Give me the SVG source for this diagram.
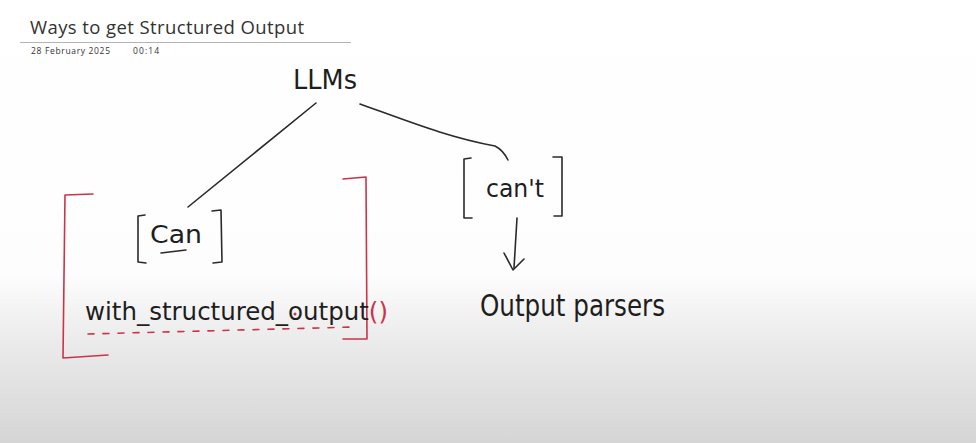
<svg xmlns="http://www.w3.org/2000/svg" width="976" height="443" viewBox="0 0 976 443">
<defs>
<linearGradient id="bg" x1="0" y1="0" x2="0" y2="1">
<stop offset="0" stop-color="#ffffff"/>
<stop offset="0.62" stop-color="#fdfdfd"/>
<stop offset="0.76" stop-color="#ececec"/>
<stop offset="1" stop-color="#d5d5d5"/>
</linearGradient>
<style>
.ink{fill:none;stroke:#2a2a2a;stroke-width:1.6;stroke-linecap:round;stroke-linejoin:round}
.red{fill:none;stroke:#c9344a;stroke-width:1.6;stroke-linecap:round;stroke-linejoin:round}
.hand{font-family:"DejaVu Sans","Liberation Sans",sans-serif;fill:#1e1e1e;font-weight:normal}
.head{font-family:"Open Sans","Liberation Sans",sans-serif;fill:#333333}
</style>
</defs>
<rect width="976" height="443" fill="url(#bg)"/>
<g id="header">
<text class="head" x="30" y="34" font-size="18.5" textLength="274">Ways to get Structured Output</text>
<line x1="20" y1="42.5" x2="351" y2="42.5" stroke="#b4b4b4" stroke-width="1"/>
<text class="head" x="31" y="54" font-size="8.5" fill="#8a8a8a" textLength="79">28 February 2025</text>
<text class="head" x="133" y="54" font-size="8.5" fill="#8a8a8a" textLength="26">00:14</text>
</g>
<g id="connectors">
<path class="ink" d="M316,103 L188,207"/>
<path class="ink" d="M360,104 C410,122 450,138 495,146 Q503,150 508,160"/>
<path class="ink" d="M517,218 L514,268"/>
<path class="ink" d="M504,253 L513,270 L524,259"/>
</g>
<g id="node-llms">
<text class="hand" x="293" y="89" font-size="27" textLength="64" lengthAdjust="spacingAndGlyphs">LLMs</text>
</g>
<g id="node-can">
<path class="ink" d="M145,215 L138,216 L138,262 L146,263"/>
<path class="ink" d="M212,211 L221,210 L222,262 L213,263"/>
<text class="hand" x="150" y="243" font-size="24" textLength="52" lengthAdjust="spacingAndGlyphs">Can</text>
<path class="ink" d="M161,253 L186,250"/>
</g>
<g id="node-cant">
<path class="ink" d="M471,158 L464,159 L464,218 L472,218"/>
<path class="ink" d="M553,157 L562,157 L562,216 L554,216"/>
<text class="hand" x="486" y="197" font-size="24" textLength="58" lengthAdjust="spacingAndGlyphs">can't</text>
</g>
<g id="node-output-parsers">
<text class="hand" x="480" y="316" font-size="30" textLength="185" lengthAdjust="spacingAndGlyphs">Output parsers</text>
</g>
<g id="node-with-structured-output">
<path class="red" d="M93,194 L65,195 L63,358 L108,355"/>
<path class="red" d="M343,179 L366,177 L367,339 L343,339"/>
<text class="hand" x="85" y="320" font-size="24" textLength="303" lengthAdjust="spacingAndGlyphs">with_structured_output<tspan fill="#c9344a">()</tspan></text>
<path class="red" stroke-dasharray="6 9" d="M88,334 L355,327"/>
<circle cx="295" cy="314" r="1.5" fill="#c9344a"/>
</g>
</svg>
